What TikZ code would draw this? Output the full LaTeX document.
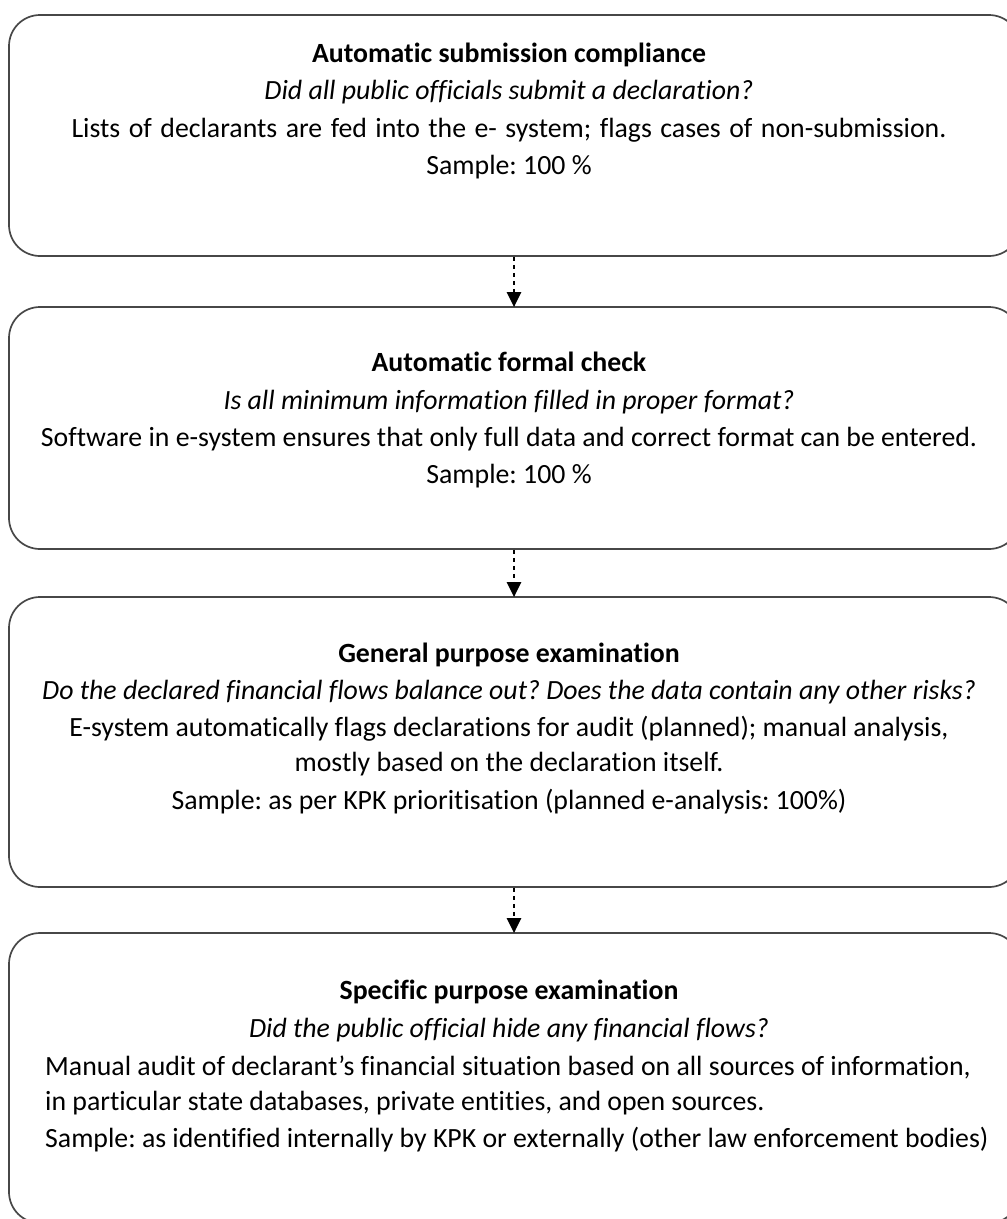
\documentclass[tikz,border=0pt]{standalone}
\usepackage{fontspec}
\setmainfont[Ligatures=NoCommon]{Carlito}
\usetikzlibrary{arrows.meta}
\frenchspacing
\begin{document}
\begin{tikzpicture}[x=1pt,y=-1pt,
  stagebox/.style={draw=black!72, line width=1.7pt, rounded corners=31pt,
    minimum width=1011pt, inner sep=0pt},
  txt/.style={font=\fontsize{27.8}{32}\selectfont, anchor=base, inner sep=0pt, text=black},
  ttl/.style={txt, font=\fontsize{27.8}{32}\selectfont\bfseries},
  qst/.style={txt, font=\fontsize{27.8}{32}\selectfont\itshape},
  wide/.style={execute at begin node={\spaceskip=8.5pt\relax}},
  flow/.style={line width=2.6pt, dash pattern=on 4pt off 4pt,
    -{Triangle[width=14pt,length=15pt]}, shorten >=-1pt}
]
\useasboundingbox (0,0) rectangle (1007,1219);

% stage boxes
\node[stagebox, minimum height=241pt] (b1) at (514.5,135.5) {};
\node[stagebox, minimum height=242pt] (b2) at (514.5,428) {};
\node[stagebox, minimum height=290pt] (b3) at (514.5,742) {};
\node[stagebox, minimum height=290pt] (b4) at (514.5,1078) {};

% stage 1
\node[ttl] (t1) at (509,62) {Automatic submission compliance};
\node[qst] (q1) at (509,99) {Did all public officials submit a declaration?};
\node[txt, wide] (d1) at (509,137) {Lists of declarants are fed into the e- system; flags cases of non-submission.};
\node[txt] (s1) at (509,174) {Sample: 100 \%};

% stage 2
\node[ttl] (t2) at (509,371) {Automatic formal check};
\node[qst] (q2) at (509,409) {Is all minimum information filled in proper format?};
\node[txt] (d2) at (509,446) {Software in e-system ensures that only full data and correct format can be entered.};
\node[txt] (s2) at (509,483) {Sample: 100 \%};

% stage 3
\node[ttl] (t3) at (509,662) {General purpose examination};
\node[qst] (q3) at (509,699) {Do the declared financial flows balance out? Does the data contain any other risks?};
\node[txt] (d3a) at (509,736) {E-system automatically flags declarations for audit (planned); manual analysis,};
\node[txt] (d3b) at (509,771) {mostly based on the declaration itself.};
\node[txt] (s3) at (509,809) {Sample: as per KPK prioritisation (planned e-analysis: 100\%)};

% stage 4
\node[ttl] (t4) at (509,999) {Specific purpose examination};
\node[qst] (q4) at (509,1037) {Did the public official hide any financial flows?};
\node[txt, anchor=base west] (d4a) at (45,1075) {Manual audit of declarant’s financial situation based on all sources of information,};
\node[txt, anchor=base west] (d4b) at (45,1110) {in particular state databases, private entities, and open sources.};
\node[txt, anchor=base west] (s4) at (45,1147) {Sample: as identified internally by KPK or externally (other law enforcement bodies)};

% connectors
\draw[flow] (b1.south -| 514,0) -- (b2.north -| 514,0);
\draw[flow] (b2.south -| 514,0) -- (b3.north -| 514,0);
\draw[flow] (b3.south -| 514,0) -- (b4.north -| 514,0);
\end{tikzpicture}
\end{document}
